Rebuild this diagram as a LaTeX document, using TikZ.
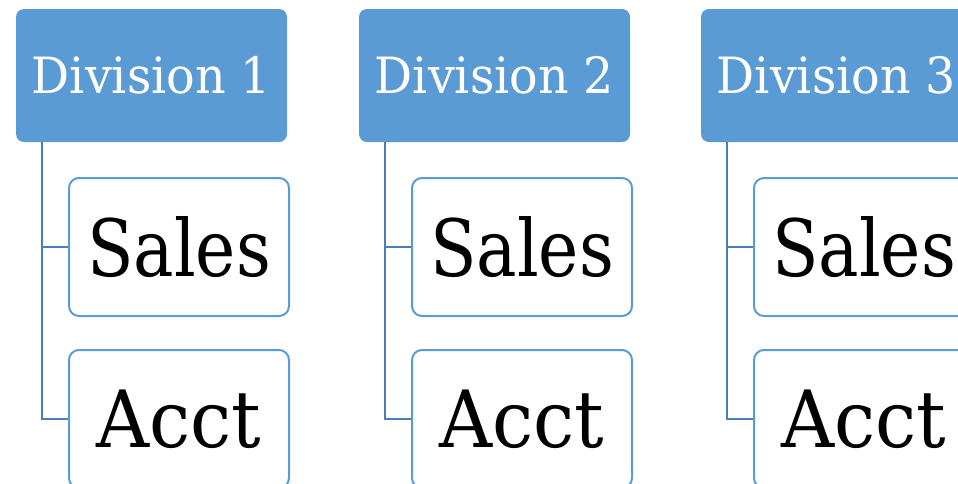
\documentclass[tikz,border=0pt]{standalone}
\usepackage{fontspec}
\setmainfont{DejaVu Serif}
\definecolor{divblue}{HTML}{5B9BD5}
\definecolor{linkblue}{HTML}{4A7EBB}
\begin{document}
\begin{tikzpicture}[x=1pt,y=-1pt,
  divbox/.style={fill=divblue,rounded corners=8pt,minimum width=271pt,minimum height=133pt,inner sep=0pt,text=white,font=\fontsize{50}{50}\selectfont},
  subbox/.style={draw=divblue,line width=2pt,fill=white,rounded corners=10pt,minimum width=220pt,minimum height=138pt,inner sep=0pt,font=\fontsize{79}{79}\selectfont},
  link/.style={draw=linkblue,line width=2pt}]
\useasboundingbox (0,0) rectangle (958,483);
\begin{scope}
\clip (0,0) rectangle (958,483);
\foreach \i/\dx in {1/0,2/343,3/685}{
  \node[divbox] (d\i) at (151.5+\dx,75.5) {\scalebox{0.95}[1]{Division \i}};
  \node[subbox] (s\i) at (179+\dx,247) {\scalebox{0.86}[1]{Sales}};
  \node[subbox] (a\i) at (179+\dx,419) {\scalebox{0.93}[1]{Acct}};
  \draw[link] ([xshift=26pt]d\i.south west) |- (s\i.west);
  \draw[link] ([xshift=26pt]d\i.south west) |- (a\i.west);
}
\end{scope}
\end{tikzpicture}
\end{document}
